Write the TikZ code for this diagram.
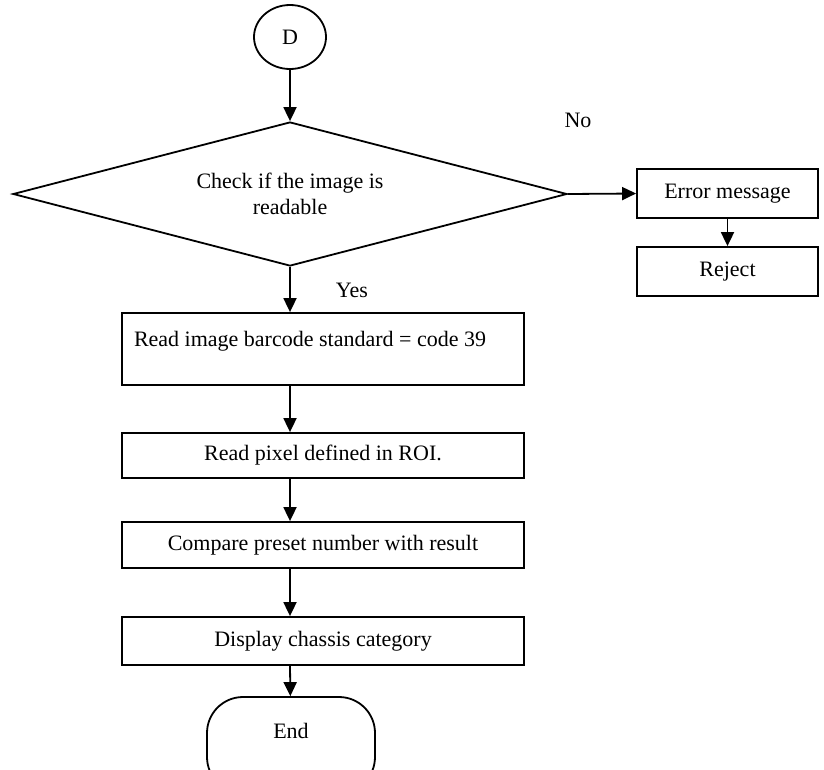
\documentclass[tikz,border=0pt]{standalone}
\usepackage{fontspec}
\setmainfont{Liberation Serif}
\usetikzlibrary{shapes.geometric,arrows.meta}
\begin{document}
\begin{tikzpicture}[x=1pt,y=-1pt,
  line width=1.8pt,
  every node/.append style={font=\fontsize{22}{26}\selectfont},
  procbox/.style={draw, rectangle, inner sep=0pt, minimum width=402pt},
  sidebox/.style={draw, rectangle, inner sep=0pt, minimum width=181pt, minimum height=49pt},
  flow/.style={-{Triangle[length=14pt,width=13pt]}},
  lbl/.style={inner sep=0pt},
]
\useasboundingbox (0,0) rectangle (824,769);
\clip (0,0) rectangle (824,769);

% start connector
\node[draw, ellipse, minimum width=72pt, minimum height=64pt, inner sep=0pt] (d) at (290,37) {D};

% decision
\node[draw, diamond, aspect=3.85, minimum width=554pt, minimum height=144pt,
      inner sep=0pt, align=center] (dia) at (290,194)
      {Check if the image is\\readable};
\node[lbl] (no) at (578,120) {No};
\node[lbl] (yes) at (352,290) {Yes};

% rejection branch
\node[sidebox] (err) at (727.5,193.5) {Error message};
\node[sidebox] (rej) at (727.5,271.5) {Reject};

% main process
\node[procbox, minimum height=72pt, text height=14pt, text depth=20pt] (b1) at (323,349)
      {\makebox[378pt][l]{Read image barcode standard = code 39}};
\node[procbox, minimum height=45pt] (b2) at (323,455.5) {Read pixel defined in ROI.};
\node[procbox, minimum height=46pt] (b3) at (323,545) {Compare preset number with result};
\node[procbox, minimum height=48pt] (b4) at (323,641) {Display chassis category};

% terminator
\node[draw, rectangle, rounded corners=36pt, minimum width=168pt, minimum height=96pt,
      inner sep=0pt, text height=14pt, text depth=28pt] (end) at (291,745) {End};

% connectors
\draw[flow] (d) -- (dia);
\draw[flow] (dia.east) -- (err.west);
\draw[flow] (err) -- (rej);
\draw[flow] (dia.south) -- (dia.south |- b1.north);
\draw[flow] (dia.south |- b1.south) -- (dia.south |- b2.north);
\draw[flow] (dia.south |- b2.south) -- (dia.south |- b3.north);
\draw[flow] (dia.south |- b3.south) -- (dia.south |- b4.north);
\draw[flow] (dia.south |- b4.south) -- (end);
\end{tikzpicture}
\end{document}
